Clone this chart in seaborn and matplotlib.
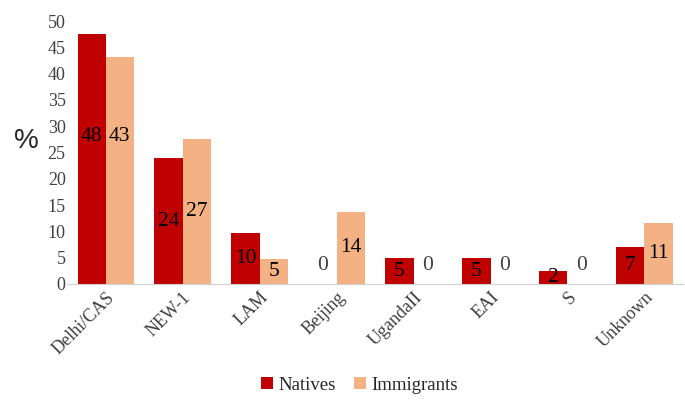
import pandas as pd
import numpy as np
import matplotlib
matplotlib.use("Agg")
import matplotlib.pyplot as plt
import seaborn as sns
from matplotlib.patches import Patch

categories = ["Delhi/CAS", "NEW-1", "LAM", "Beijing", "UgandaII", "EAI", "S", "Unknown"]
natives = [47.6, 23.9, 9.6, 0, 4.9, 4.9, 2.4, 7.1]
immigrants = [43.2, 27.5, 4.7, 13.7, 0, 0, 0, 11.5]
native_labels = ["48", "24", "10", "0", "5", "5", "2", "7"]
immigrant_labels = ["43", "27", "5", "14", "0", "0", "0", "11"]
groups = ["Natives", "Immigrants"]
colors = ["#C00000", "#F4B183"]

df = pd.DataFrame({
    "Lineage": categories * 2,
    "Percent": natives + immigrants,
    "Group": [groups[0]] * len(categories) + [groups[1]] * len(categories),
})

sns.set_style("white")
plt.rcParams["font.family"] = ["Liberation Serif", "DejaVu Serif"]

fig = plt.figure(figsize=(6.85, 4.2), dpi=100)
ax = fig.add_axes([0.098, 0.324, 0.899, 0.626])

sns.barplot(data=df, x="Lineage", y="Percent", hue="Group", palette=colors,
            width=0.73, gap=0, ax=ax, legend=False, saturation=1, linewidth=0)

# value labels, roughly centred in each bar like the Excel original
for container, labels in zip(ax.containers, [native_labels, immigrant_labels]):
    for bar, lab in zip(container, labels):
        h = bar.get_height()
        y = h / 2 if h > 0 else 3.5
        if h > 40:
            y = 28
        col = "black" if h > 0 else "#404040"
        ax.text(bar.get_x() + bar.get_width() / 2, y, lab, ha="center", va="center",
                fontsize=15.5, color=col)

ax.set_ylim(0, 50)
ax.set_yticks(np.arange(0, 51, 5))
ax.set_xlim(-0.5, len(categories) - 0.5)
ax.set_xlabel("")
ax.set_ylabel("")
ax.tick_params(axis="both", length=0, labelsize=13, colors="#404040")
ax.tick_params(axis="y", pad=1)
plt.setp(ax.get_xticklabels(), rotation=45, ha="right", rotation_mode="anchor")

for s in ["top", "right", "left"]:
    ax.spines[s].set_visible(False)
ax.spines["bottom"].set_color("#d0d0d0")

fig.text(0.038, 0.664, "%", fontsize=20, family="Liberation Sans", ha="center", va="center")

handles = [Patch(facecolor=c, edgecolor="none", label=g) for g, c in zip(groups, colors)]
fig.legend(handles=handles, loc="center", bbox_to_anchor=(0.525, 0.083), ncol=2,
           frameon=False, fontsize=13.5, handlelength=0.6, handleheight=0.6,
           handletextpad=0.3, columnspacing=1.0)

fig.savefig("out.png", dpi=100)
